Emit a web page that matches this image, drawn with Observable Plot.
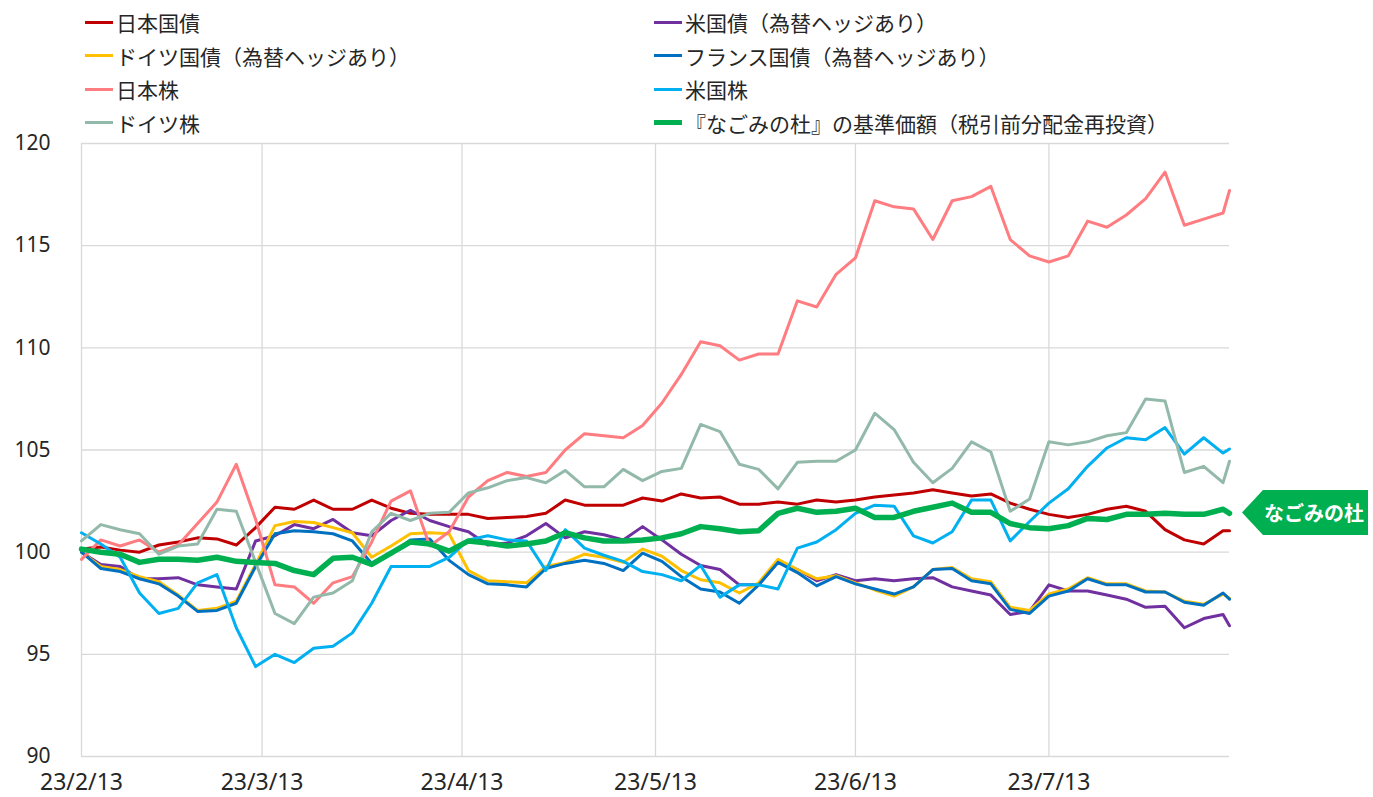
<!DOCTYPE html>
<html>
<head>
<meta charset="utf-8">
<script src="https://cdn.jsdelivr.net/npm/d3@7"></script>
<script src="https://cdn.jsdelivr.net/npm/@observablehq/plot@0.6"></script>
<style>
  body { margin: 0; background: #fff; font-family: "Noto Sans CJK JP", "Noto Sans", sans-serif; }
  #wrap { position: relative; width: 1373px; height: 797px; overflow: hidden; }
  #legend { position: relative; width: 1373px; height: 132px; }
  .item { position: absolute; display: flex; align-items: center; height: 30px; font-size: 21px; color: #262626; white-space: nowrap; }
  .sw { width: 28px; height: 3px; margin-right: 3px; }
  #tag { position: absolute; left: 1242px; top: 490px; width: 126px; height: 45px; background: #00b050;
         clip-path: polygon(0 50%, 21px 0, 100% 0, 100% 100%, 21px 100%);
         color: #fff; font-weight: bold; font-size: 20px; display: flex; align-items: center;
         justify-content: center; box-sizing: border-box; padding-left: 18px; }
</style>
</head>
<body>
<div id="wrap">
  <div id="legend"></div>
  <div id="chart"></div>
  <div id="tag">なごみの杜</div>
</div>
<script>
// ---- data -------------------------------------------------------------
const dates = [
  "2023-02-13","2023-02-16","2023-02-19","2023-02-22","2023-02-25","2023-02-28","2023-03-03","2023-03-06","2023-03-09","2023-03-12",
  "2023-03-15","2023-03-18","2023-03-21","2023-03-24","2023-03-27","2023-03-30","2023-04-02","2023-04-05","2023-04-08","2023-04-11",
  "2023-04-14","2023-04-17","2023-04-20","2023-04-23","2023-04-26","2023-04-29","2023-05-02","2023-05-05","2023-05-08","2023-05-11",
  "2023-05-14","2023-05-17","2023-05-20","2023-05-23","2023-05-26","2023-05-29","2023-06-01","2023-06-04","2023-06-07","2023-06-10",
  "2023-06-13","2023-06-16","2023-06-19","2023-06-22","2023-06-25","2023-06-28","2023-07-01","2023-07-04","2023-07-07","2023-07-10",
  "2023-07-13","2023-07-16","2023-07-19","2023-07-22","2023-07-25","2023-07-28","2023-07-31","2023-08-03","2023-08-06","2023-08-09","2023-08-10"
];

const seriesNames = [
  "日本国債",
  "米国債（為替ヘッジあり）",
  "ドイツ国債（為替ヘッジあり）",
  "フランス国債（為替ヘッジあり）",
  "日本株",
  "米国株",
  "ドイツ株",
  "『なごみの杜』の基準価額（税引前分配金再投資）"
];

const jgb = [100.15,100.25,100.1,100.0,100.35,100.5,100.7,100.65,100.35,101.2,
  102.2,102.1,102.55,102.1,102.1,102.55,102.15,101.9,101.85,101.85,
  101.85,101.65,101.7,101.75,101.9,102.55,102.3,102.3,102.3,102.65,
  102.5,102.85,102.65,102.7,102.35,102.35,102.45,102.35,102.55,102.45,
  102.55,102.7,102.8,102.9,103.05,102.9,102.75,102.85,102.4,102.1,
  101.85,101.7,101.85,102.1,102.25,102.0,101.1,100.6,100.4,101.05,101.05];

const usBond = [100.0,99.4,99.3,98.7,98.7,98.75,98.4,98.3,98.2,100.55,
  100.8,101.35,101.15,101.6,100.95,100.8,101.55,102.05,101.55,101.25,
  101.0,100.35,100.45,100.8,101.4,100.7,101.0,100.85,100.6,101.25,
  100.6,99.9,99.35,99.15,98.4,98.4,99.5,99.15,98.6,98.9,
  98.6,98.7,98.6,98.7,98.75,98.3,98.1,97.9,96.95,97.1,
  98.4,98.1,98.1,97.9,97.7,97.3,97.35,96.3,96.75,96.95,96.4];

const deBond = [100.0,99.3,99.15,98.8,98.55,97.9,97.15,97.25,97.6,99.4,
  101.3,101.5,101.45,101.2,100.95,99.75,100.3,100.9,100.95,100.9,
  99.1,98.6,98.55,98.5,99.3,99.5,99.9,99.75,99.5,100.15,
  99.8,99.1,98.65,98.5,98.0,98.5,99.65,99.15,98.7,98.85,
  98.5,98.15,97.85,98.3,99.15,99.25,98.7,98.55,97.3,97.15,
  97.95,98.2,98.75,98.45,98.45,98.1,98.05,97.6,97.45,97.95,97.75];

const frBond = [100.0,99.2,99.05,98.7,98.45,97.85,97.1,97.15,97.5,99.3,
  100.9,101.05,101.0,100.9,100.55,99.45,99.9,100.6,100.65,99.6,
  98.9,98.45,98.4,98.3,99.2,99.45,99.6,99.45,99.1,99.95,
  99.55,98.8,98.2,98.05,97.5,98.4,99.5,99.0,98.35,98.8,
  98.45,98.2,97.95,98.3,99.15,99.2,98.6,98.45,97.2,97.0,
  97.85,98.1,98.7,98.4,98.4,98.05,98.05,97.55,97.4,98.0,97.7];

const jpStock = [99.65,100.6,100.3,100.6,100.0,100.35,101.4,102.45,104.3,101.6,
  98.4,98.3,97.5,98.5,98.8,100.5,102.5,103.0,100.3,101.0,
  102.7,103.5,103.9,103.7,103.9,105.0,105.8,105.7,105.6,106.2,
  107.3,108.7,110.3,110.1,109.4,109.7,109.7,112.3,112.0,113.6,
  114.4,117.2,116.9,116.8,115.3,117.2,117.4,117.9,115.3,114.5,
  114.2,114.5,116.2,115.9,116.5,117.3,118.6,116.0,116.3,116.6,117.7];

const usStock = [100.95,100.4,99.75,98.0,97.0,97.25,98.5,98.9,96.3,94.4,
  95.0,94.6,95.3,95.4,96.05,97.5,99.3,99.3,99.3,99.75,
  100.6,100.8,100.6,100.55,99.1,101.1,100.2,99.85,99.55,99.05,
  98.9,98.6,99.35,97.8,98.4,98.4,98.2,100.2,100.5,101.1,
  101.9,102.3,102.25,100.8,100.45,101.0,102.55,102.55,100.55,101.5,
  102.4,103.1,104.2,105.1,105.6,105.5,106.1,104.8,105.6,104.85,105.05];

const deStock = [100.55,101.35,101.1,100.9,99.9,100.3,100.4,102.1,102.0,99.5,
  97.0,96.5,97.8,98.0,98.6,101.0,101.9,101.55,101.9,101.95,
  102.9,103.15,103.5,103.65,103.4,104.0,103.2,103.2,104.05,103.5,
  103.95,104.1,106.25,105.9,104.3,104.05,103.1,104.4,104.45,104.45,
  105.0,106.8,106.0,104.4,103.4,104.1,105.4,104.9,102.0,102.6,
  105.4,105.25,105.4,105.7,105.85,107.5,107.4,103.9,104.2,103.4,104.45];

const nagomi = [100.15,100.0,99.9,99.5,99.65,99.65,99.6,99.75,99.55,99.5,
  99.45,99.1,98.9,99.7,99.75,99.4,99.95,100.5,100.4,100.05,
  100.55,100.45,100.3,100.4,100.55,100.95,100.7,100.55,100.55,100.6,
  100.7,100.9,101.25,101.15,101.0,101.05,101.9,102.15,101.95,102.0,
  102.15,101.7,101.7,102.0,102.2,102.4,101.95,101.95,101.4,101.2,
  101.15,101.3,101.65,101.6,101.85,101.85,101.9,101.85,101.85,102.1,101.9];

const seriesValues = [jgb, usBond, deBond, frBond, jpStock, usStock, deStock, nagomi];
const seriesColors = ["#c00000", "#7030a0", "#ffc000", "#0070c0", "#ff7c80", "#00b0f0", "#93b9aa", "#00b050"];
const seriesWidths = [3, 3, 3, 3, 3, 3, 3, 5.5];

const xDomain = ["2023-02-13", "2023-08-10"];
const xTicks = ["2023-02-13","2023-03-13","2023-04-13","2023-05-13","2023-06-13","2023-07-13"];
const xTickLabels = ["23/2/13","23/3/13","23/4/13","23/5/13","23/6/13","23/7/13"];
const yTicks = [90, 95, 100, 105, 110, 115, 120];

// legend layout: two columns, four rows
const legendOrder = [0, 2, 4, 6, 1, 3, 5, 7];

// ---- legend -----------------------------------------------------------
const legend = document.getElementById("legend");
legendOrder.forEach((s, k) => {
  const col = k < 4 ? 0 : 1;
  const row = k % 4;
  const el = document.createElement("div");
  el.className = "item";
  el.style.left = (col === 0 ? 85 : 654) + "px";
  el.style.top = (7 + row * 33.5) + "px";
  const sw = document.createElement("span");
  sw.className = "sw";
  sw.style.background = seriesColors[s];
  sw.style.height = (s === 7 ? 5 : 3) + "px";
  el.appendChild(sw);
  el.appendChild(document.createTextNode(seriesNames[s]));
  legend.appendChild(el);
});

// ---- chart ------------------------------------------------------------
const parse = d3.utcParse("%Y-%m-%d");
const table = [];
seriesValues.forEach((vals, s) => {
  vals.forEach((v, i) => table.push({series: s, date: parse(dates[i]), value: v}));
});
const tickDates = xTicks.map(parse);
const labelOf = new Map(tickDates.map((d, i) => [+d, xTickLabels[i]]));

const lineMarks = seriesValues.map((_, s) =>
  Plot.line(table.filter(r => r.series === s), {
    x: "date", y: "value",
    stroke: seriesColors[s], strokeWidth: seriesWidths[s],
    strokeLinejoin: "round", strokeLinecap: "round"
  })
);

const chart = Plot.plot({
  width: 1373,
  height: 665,
  marginTop: 11,
  marginBottom: 41,
  marginLeft: 81,
  marginRight: 144,
  style: {fontFamily: '"Noto Sans", sans-serif', color: "#262626", background: "transparent", overflow: "visible"},
  x: {type: "utc", domain: xDomain.map(parse), label: null},
  y: {domain: [90, 120], label: null},
  marks: [
    Plot.gridY(yTicks, {stroke: "#d9d9d9", strokeOpacity: 1, strokeWidth: 1.3}),
    Plot.gridX(tickDates, {stroke: "#d9d9d9", strokeOpacity: 1, strokeWidth: 1.3}),
    Plot.axisY(yTicks, {tickSize: 0, tickPadding: 31, fontSize: 21, label: null, tickFormat: d => String(d)}),
    Plot.axisX(tickDates, {tickSize: 0, tickPadding: 17, fontSize: 23, label: null, tickFormat: d => labelOf.get(+d)}),
    ...lineMarks
  ]
});
document.getElementById("chart").appendChild(chart);
</script>
</body>
</html>
